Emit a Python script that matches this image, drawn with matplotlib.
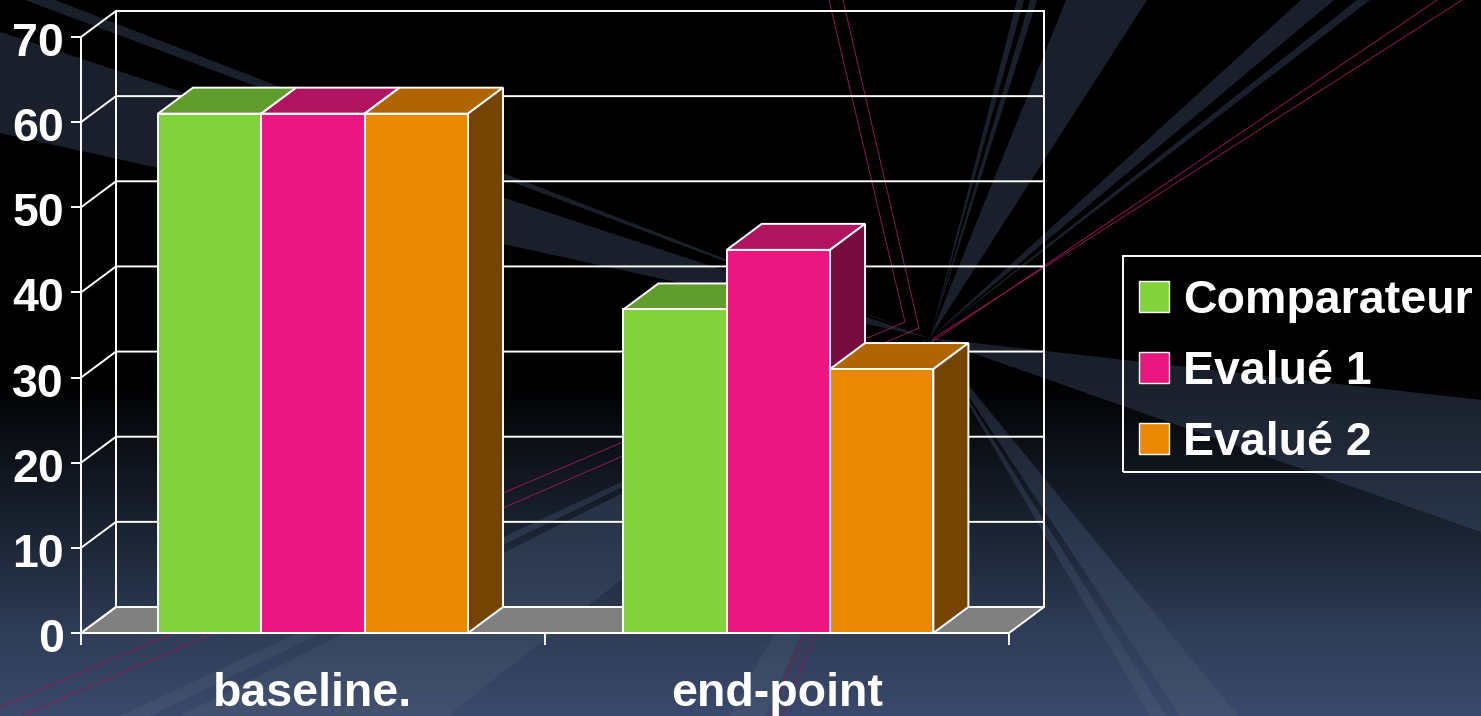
import numpy as np
import matplotlib
matplotlib.use("Agg")
import matplotlib.pyplot as plt
from matplotlib.patches import Patch, PathPatch, Rectangle
from matplotlib.path import Path
from matplotlib.transforms import ScaledTranslation

# Values
categories = ["baseline.", "end-point"]
series_names = ["Comparateur", "Evalué 1", "Evalué 2"]
comparateur = [61, 38]
evalue_1 = [61, 45]
evalue_2 = [61, 31]
y_ticks = [0, 10, 20, 30, 40, 50, 60, 70]

front_colors = ["#82d33b", "#ea1780", "#ea8703"]
top_colors = ["#619d2c", "#b01360", "#b06502"]
side_colors = ["#41691e", "#770c3f", "#754402"]

W, H = 1481, 716
DPI = 100
FONT = "Liberation Sans"
FS = 33.5
LW = 1.4

# Background gradients, top to bottom
grad_y = [0, 380, 470, 550, 633, 716]
bg_colors = ["#000000", "#000000", "#11161f", "#1e2839", "#2f3d58", "#3a4a6c"]
streak_colors = ["#1a202b", "#1a202b", "#232c3d", "#2c394f", "#37465f", "#42526f"]

CENTER = (930, 338)
wedges = [
    ((0, 32), (0, 133)),
    ((25, 0), (55, 0)),
    ((120, 716), (150, 716)),
    ((180, 716), (447, 716)),
    ((730, 716), (765, 716)),
    ((1150, 716), (1166, 716)),
    ((1180, 716), (1238, 716)),
    ((1481, 400), (1481, 532)),
    ((1017, 0), (1024, 0)),
    ((1030, 0), (1037, 0)),
    ((1066, 0), (1147, 0)),
    ((1301, 0), (1334, 0)),
    ((1357, 0), (1370, 0)),
]
pink_lines = [
    [(829, 0), (905, 322), (0, 707)],
    [(843, 0), (919, 328), (22, 716)],
    [(1437, 0), (923, 348), (770, 716)],
    [(1462, 0), (934, 338), (782, 716)],
]


def hex_to_rgb(c):
    return [int(c[i:i + 2], 16) / 255 for i in (1, 3, 5)]


def gradient_image(colors):
    rows = np.arange(H)
    rgb = np.array([hex_to_rgb(c) for c in colors])
    return np.stack([np.interp(rows, grad_y, rgb[:, i]) for i in range(3)], axis=1)[:, None, :]


plt.rcParams["font.family"] = [FONT, "DejaVu Sans"]
plt.rcParams["font.weight"] = "bold"
fig = plt.figure(figsize=(W / DPI, H / DPI), dpi=DPI)

# Background layer in pixel coordinates
bg = fig.add_axes([0, 0, 1, 1], zorder=0)
bg.set_xlim(0, W)
bg.set_ylim(H, 0)
bg.axis("off")
bg.imshow(gradient_image(bg_colors), extent=(0, W, H, 0), aspect="auto", zorder=0)
streak_im = bg.imshow(gradient_image(streak_colors), extent=(0, W, H, 0), aspect="auto", zorder=1)
verts, codes = [], []
for a, b in wedges:
    verts += [CENTER, a, b, CENTER]
    codes += [Path.MOVETO, Path.LINETO, Path.LINETO, Path.CLOSEPOLY]
clip = PathPatch(Path(verts, codes), transform=bg.transData, facecolor="none", edgecolor="none")
bg.add_patch(clip)
streak_im.set_clip_path(clip)
for line in pink_lines:
    xs, ys = zip(*line)
    bg.plot(xs, ys, color="#8c1a50", lw=0.7, zorder=2)
bg.set_xlim(0, W)
bg.set_ylim(H, 0)

# Chart axes cover the front plane of the 3D box
ax = fig.add_axes([81 / W, (H - 633) / H, (1009 - 81) / W, (633 - 37) / H], zorder=1)
ax.patch.set_alpha(0)
ax.set_xlim(0, len(categories))
ax.set_ylim(0, 70)

depth_x = 35 / 464
depth_y = 26 / (596 / 70)

# back wall, floor and gridlines
ax.fill([0, depth_x, 2 + depth_x, 2], [0, depth_y, depth_y, 0], facecolor="#808080",
        edgecolor="white", lw=LW, clip_on=False, zorder=1)
for t in y_ticks:
    ax.plot([0, depth_x, 2 + depth_x], [t, t + depth_y, t + depth_y], color="white",
            lw=LW, clip_on=False, zorder=1)
for x in [depth_x, 2 + depth_x]:
    ax.plot([x, x], [depth_y, 70 + depth_y], color="white", lw=LW, clip_on=False, zorder=1)

# bars, left to right so the later ones cover the sides
bar_w = 0.2227
group_centers = [0.5, 1.503]
series = [comparateur, evalue_1, evalue_2]
z = 2
for c in range(len(categories)):
    left = group_centers[c] - 1.5 * bar_w
    for s, vals in enumerate(series):
        x0 = left + s * bar_w
        x1 = x0 + bar_w
        v = vals[c]
        ax.fill([x0, x0 + depth_x, x1 + depth_x, x1], [v, v + depth_y, v + depth_y, v],
                facecolor=top_colors[s], edgecolor="white", lw=LW, clip_on=False, zorder=z)
        ax.fill([x1, x1 + depth_x, x1 + depth_x, x1], [0, depth_y, v + depth_y, v],
                facecolor=side_colors[s], edgecolor="white", lw=LW, clip_on=False, zorder=z)
        ax.bar(x0, v, width=bar_w, align="edge", color=front_colors[s], edgecolor="white",
               lw=LW, clip_on=False, zorder=z + 1)
        z += 2

for name in ["top", "right"]:
    ax.spines[name].set_visible(False)
for name in ["left", "bottom"]:
    ax.spines[name].set_color("white")
    ax.spines[name].set_linewidth(LW)
    ax.spines[name].set_zorder(50)

ax.set_yticks(y_ticks)
ax.set_yticklabels([str(t) for t in y_ticks], fontsize=FS, fontweight="bold", color="white")
ax.tick_params(axis="y", length=7.2, width=LW, color="white", pad=5)
label_shift = ScaledTranslation(0, -2 / DPI, fig.dpi_scale_trans)
for lab in ax.get_yticklabels():
    lab.set_transform(lab.get_transform() + label_shift)
ax.set_xticks([0, 1, 2])
ax.set_xticklabels(["", "", ""])
ax.tick_params(axis="x", which="major", length=8.5, width=LW, color="white")
ax.set_xticks([0.5, 1.5], minor=True)
ax.set_xticklabels(categories, minor=True, fontsize=FS, fontweight="bold", color="white")
ax.tick_params(axis="x", which="minor", length=0, pad=28.4)

# legend box is its own rectangle, it runs off the right edge of the figure
fig.add_artist(Rectangle((1123 / W, 1 - 472 / H), 380 / W, 216 / H, transform=fig.transFigure,
                         facecolor="none", edgecolor="white", lw=LW, zorder=5))
handles = [Patch(facecolor=front_colors[i], edgecolor="white", lw=1.0, label=series_names[i])
           for i in range(3)]
leg = ax.legend(handles=handles, loc="upper left", bbox_to_anchor=(1122 / W, 1 - 262 / H),
                bbox_transform=fig.transFigure, borderaxespad=0, frameon=False,
                handlelength=0.645, handleheight=0.667, handletextpad=0.3, borderpad=0.36,
                labelspacing=0.58, prop={"family": FONT, "weight": "bold", "size": FS},
                labelcolor="white")
leg.set_zorder(60)

fig.savefig("out.png", dpi=DPI)
